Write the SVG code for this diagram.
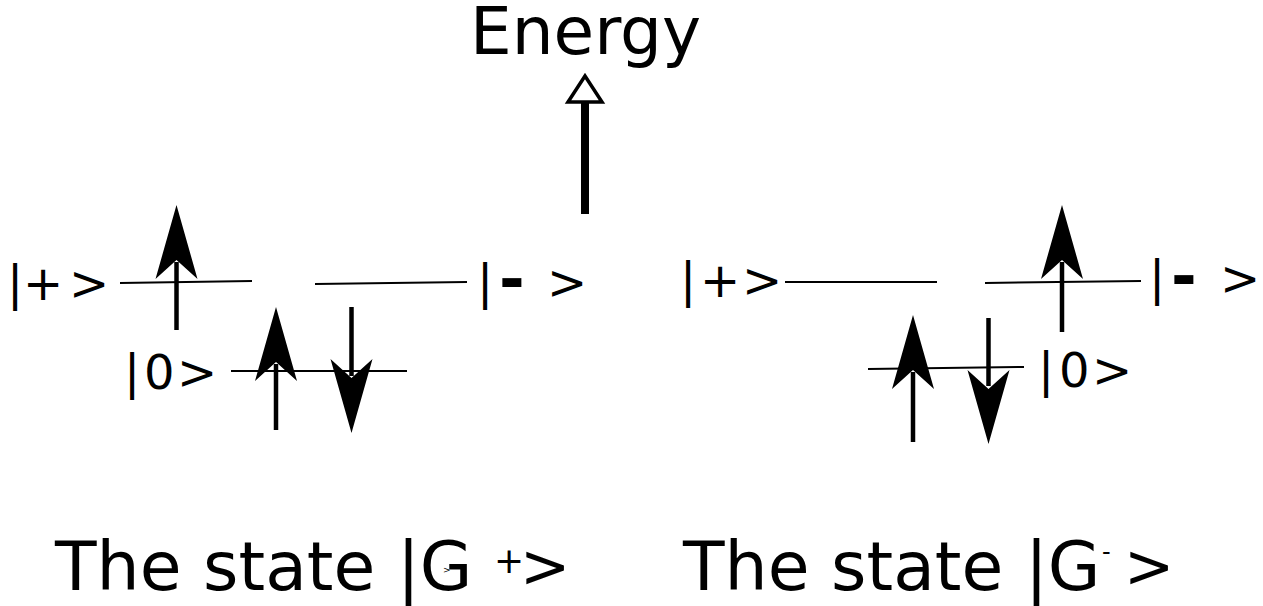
<svg xmlns="http://www.w3.org/2000/svg" xmlns:xlink="http://www.w3.org/1999/xlink" width="1263" height="606" viewBox="0 0 1263 606">
<style>
  text { font-family: "DejaVu Sans", "Liberation Sans", sans-serif; fill: #000; }
  .lbl { font-size: 48px; }
  .dash { font-size: 62px; font-weight: bold; }
  .big { font-size: 68px; }
  .gt { font-size: 60px; }
  .level { stroke: #000; stroke-width: 2; fill: none; }
  .shaft { stroke: #000; stroke-width: 4.5; fill: none; }
  .head { fill: #000; stroke: none; }
</style>
<defs>
  <path id="headUp" class="head" d="M0,0 L21,74 L0,55 L-21,74 Z"/>
  <path id="headDown" class="head" d="M0,0 L21,-74 L0,-55 L-21,-74 Z"/>
</defs>
<rect width="1263" height="606" fill="#fff"/>

<g id="energy-axis">
  <text x="470" y="54" style="font-size:66px">Energy</text>
  <line x1="585" y1="214" x2="585" y2="103" stroke="#000" stroke-width="8"/>
  <path d="M585,76 L602,102 L568,102 Z" fill="#fff" stroke="#000" stroke-width="3.5" stroke-linejoin="miter"/>
</g>

<g id="connectors">
  <!-- left state levels -->
  <line class="level" x1="120" y1="283" x2="252" y2="281"/>
  <line class="level" x1="315" y1="284" x2="467" y2="282"/>
  <line class="level" x1="231" y1="371" x2="407" y2="371"/>
  <!-- right state levels -->
  <line class="level" x1="785" y1="282" x2="937" y2="282"/>
  <line class="level" x1="985" y1="283" x2="1141" y2="281"/>
  <line class="level" x1="868" y1="369" x2="1024" y2="367"/>

  <!-- left spins -->
  <line class="shaft" x1="176.5" y1="330" x2="176.5" y2="262"/>
  <use xlink:href="#headUp" x="176.5" y="205"/>
  <line class="shaft" x1="276" y1="430" x2="276" y2="364"/>
  <use xlink:href="#headUp" x="276" y="307"/>
  <line class="shaft" x1="351.5" y1="307" x2="351.5" y2="376"/>
  <use xlink:href="#headDown" x="351.5" y="433"/>

  <!-- right spins -->
  <line class="shaft" x1="1062" y1="332" x2="1062" y2="262"/>
  <use xlink:href="#headUp" x="1062" y="205"/>
  <line class="shaft" x1="913" y1="442" x2="913" y2="372"/>
  <use xlink:href="#headUp" x="913" y="315"/>
  <line class="shaft" x1="988.5" y1="318" x2="988.5" y2="386"/>
  <use xlink:href="#headDown" x="988.5" y="444"/>
</g>

<g id="left-plus">
  <text class="lbl" y="300"><tspan x="7">|</tspan><tspan x="23">+</tspan><tspan x="69">&gt;</tspan></text>
</g>
<g id="left-minus">
  <text class="lbl" y="299"><tspan x="477">|</tspan></text>
  <text class="dash" x="499" y="301">-</text>
  <text class="lbl" x="547" y="299">&gt;</text>
</g>
<g id="left-zero">
  <text class="lbl" y="389"><tspan x="124">|</tspan><tspan x="144">0</tspan><tspan x="177">&gt;</tspan></text>
</g>

<g id="right-plus">
  <text class="lbl" y="297"><tspan x="680">|</tspan><tspan x="700">+</tspan><tspan x="742">&gt;</tspan></text>
</g>
<g id="right-minus">
  <text class="lbl" y="295"><tspan x="1149">|</tspan></text>
  <text class="dash" x="1171" y="298">-</text>
  <text class="lbl" x="1220" y="295">&gt;</text>
</g>
<g id="right-zero">
  <text class="lbl" y="387"><tspan x="1038">|</tspan><tspan x="1059">0</tspan><tspan x="1092">&gt;</tspan></text>
</g>

<g id="caption-left">
  <text class="big" x="55" y="590">The state |G</text>
  <text x="494" y="573" style="font-size:36px">+</text>
  <text class="gt" x="520" y="587">&gt;</text>
  <text x="443" y="573" style="font-size:9px">&gt;</text>
</g>
<g id="caption-right">
  <text class="big" x="683" y="590">The state |G</text>
  <text x="1102" y="560" style="font-size:24px">-</text>
  <text class="gt" x="1124" y="587">&gt;</text>
</g>
</svg>
